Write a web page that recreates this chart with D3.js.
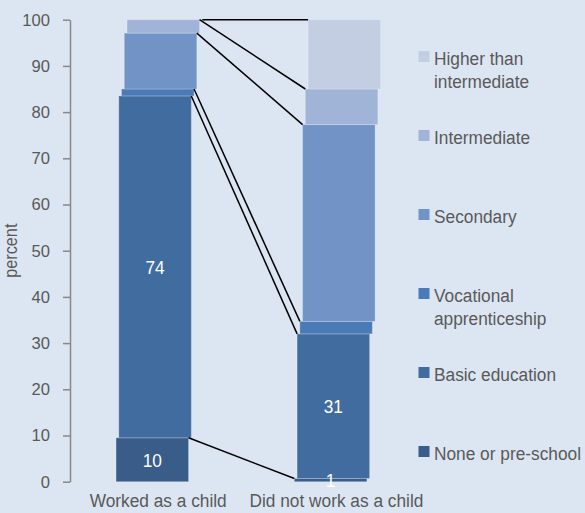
<!DOCTYPE html>
<html>
<head>
<meta charset="utf-8">
<script src="https://cdn.jsdelivr.net/npm/d3@7/dist/d3.min.js"></script>
<style>
  html, body { margin: 0; padding: 0; background: #DCE6F2; }
  svg { display: block; font-family: "Liberation Sans", Arial, sans-serif; }
</style>
</head>
<body>
<script>
// ---- data ----
const categories = ["Worked as a child", "Did not work as a child"];
const seriesNames = ["None or pre-school", "Basic education", "Vocational apprenticeship", "Secondary", "Intermediate", "Higher than intermediate"];
const legendLines = [["None or pre-school"], ["Basic education"], ["Vocational", "apprenticeship"], ["Secondary"], ["Intermediate"], ["Higher than", "intermediate"]];
const workedValues = [9.5, 74, 1.5, 12.1, 2.9, 0];
const notWorkedValues = [0.7, 31.3, 2.7, 42.6, 7.7, 15];
const labelledSeries = [0, 1];
const yTicks = [0, 10, 20, 30, 40, 50, 60, 70, 80, 90, 100];
const colors = ["#395C89", "#416C9F", "#4A7BB7", "#7293C5", "#A0B4D7", "#C3CEE3"];

const W = 585, H = 513;
const FS = 19, SX = 0.91; // text size and horizontal compression
const svg = d3.select("body").append("svg").attr("width", W).attr("height", H);
svg.append("rect").attr("width", W).attr("height", H).attr("fill", "#DCE6F2");

const y = d3.scaleLinear().domain([0, 100]).range([481.7, 19.7]);
const x = d3.scaleBand().domain(categories).range([70, 426.6]).padding(0);
const bw = x.bandwidth();
const segW = bw * 0.4066;
const off = d3.scalePoint().domain(seriesNames).range([-bw * 0.2417, -bw * 0.2417 + bw * 0.0771]);

const valuesByCat = [workedValues, notWorkedValues];
const segs = [];
categories.forEach((c, ci) => {
  let cum = 0;
  seriesNames.forEach((s, si) => {
    const v = valuesByCat[ci][si];
    const x0 = x(c) + bw / 2 + off(s);
    segs.push({ c, ci, s, si, v, y0: cum, y1: cum + v, x0 });
    cum += v;
  });
});

// bars
svg.append("g").selectAll("rect").data(segs.filter(d => d.v > 0)).join("rect")
  .attr("x", d => d.x0)
  .attr("y", d => y(d.y1))
  .attr("width", segW)
  .attr("height", d => y(d.y0) - y(d.y1))
  .attr("fill", d => colors[d.si])
  .attr("stroke", "rgba(255,255,255,0.22)")
  .attr("stroke-width", 1);

// series lines
const lineData = seriesNames.map((s, si) => {
  const a = segs.find(d => d.ci === 0 && d.si === si);
  const b = segs.find(d => d.ci === 1 && d.si === si);
  return { x1: a.x0 + segW, y1: y(a.y1), x2: b.x0, y2: y(b.y1) };
});
svg.append("g").selectAll("line").data(lineData).join("line")
  .attr("x1", d => d.x1).attr("y1", d => d.y1)
  .attr("x2", d => d.x2).attr("y2", d => d.y2)
  .attr("stroke", "#000").attr("stroke-width", 1.5);

// data labels
svg.append("g").selectAll("text").data(segs.filter(d => labelledSeries.includes(d.si))).join("text")
  .attr("transform", d => `translate(${d.x0 + segW / 2},${(y(d.y0) + y(d.y1)) / 2}) scale(${SX},1)`)
  .attr("dy", "0.36em")
  .attr("text-anchor", "middle")
  .attr("fill", "#fff")
  .attr("font-size", FS + "px")
  .text(d => Math.round(d.v));

// y axis
const yAxis = svg.append("g").attr("transform", "translate(70,0)")
  .call(d3.axisLeft(y).tickValues(yTicks).tickSize(7).tickPadding(13).tickSizeOuter(0));
yAxis.select(".domain").attr("stroke", "#888").attr("stroke-width", 1.5);
yAxis.selectAll(".tick line").attr("stroke", "#888").attr("stroke-width", 1.5);
yAxis.selectAll(".tick text").attr("fill", "#595959").attr("font-size", "16.6px")
  .attr("font-family", "Liberation Sans, Arial, sans-serif");

svg.append("text")
  .attr("transform", `translate(17,${y(50)}) rotate(-90) scale(0.93,1)`)
  .attr("text-anchor", "middle")
  .attr("fill", "#595959")
  .attr("font-size", "17.5px")
  .text("percent");

// category labels
svg.append("g").selectAll("text").data(categories).join("text")
  .attr("transform", c => `translate(${x(c) + bw / 2 - 1},507) scale(${SX},1)`)
  .attr("text-anchor", "middle")
  .attr("fill", "#595959")
  .attr("font-size", FS + "px")
  .text(c => c);

// legend
const legendOrder = d3.range(seriesNames.length).reverse();
const lg = svg.append("g").selectAll("g").data(legendOrder).join("g")
  .attr("transform", (si, i) => `translate(418.5,${51 + i * 79})`);
lg.append("rect").attr("width", 11).attr("height", 11).attr("fill", si => colors[si]);
lg.append("text")
  .attr("transform", `translate(15.5,14) scale(${SX},1)`)
  .attr("fill", "#595959")
  .attr("font-size", FS + "px")
  .selectAll("tspan").data(si => legendLines[si]).join("tspan")
  .attr("x", 0)
  .attr("dy", (d, i) => i === 0 ? 0 : 23.5)
  .text(d => d);
</script>
</body>
</html>
